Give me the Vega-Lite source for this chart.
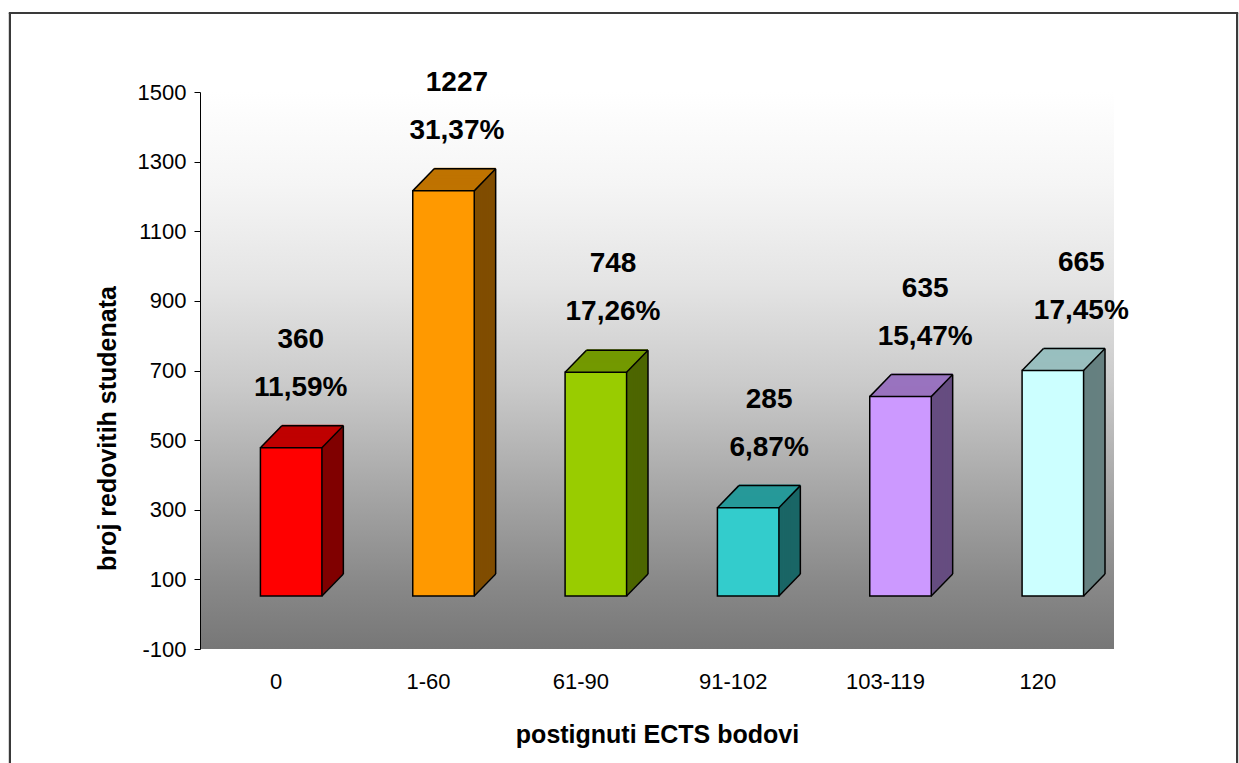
{
  "$schema": "https://vega.github.io/schema/vega-lite/v6.json",
  "autosize": {"type": "none"},
  "padding": {"left": 200, "top": 92, "right": 125, "bottom": 114},
  "width": 914,
  "height": 557,
  "background": "white",
  "config": {
    "font": "Liberation Sans, Arial, sans-serif",
    "view": {
      "stroke": null,
      "fill": {
        "gradient": "linear", "x1": 0, "y1": 0, "x2": 0, "y2": 1,
        "stops": [
          {"offset": 0, "color": "#ffffff"},
          {"offset": 0.05, "color": "#fcfcfc"},
          {"offset": 0.167, "color": "#f5f5f5"},
          {"offset": 0.346, "color": "#e4e4e4"},
          {"offset": 0.526, "color": "#cacaca"},
          {"offset": 0.706, "color": "#a8a8a8"},
          {"offset": 0.885, "color": "#888888"},
          {"offset": 1, "color": "#777777"}
        ]
      }
    }
  },
  "data": {
    "values": [
      {"bodovi": "0", "visina": 478, "broj": "360", "postotak": "11,59%"},
      {"bodovi": "1-60", "visina": 1216, "broj": "1227", "postotak": "31,37%"},
      {"bodovi": "61-90", "visina": 695, "broj": "748", "postotak": "17,26%"},
      {"bodovi": "91-102", "visina": 306, "broj": "285", "postotak": "6,87%"},
      {"bodovi": "103-119", "visina": 625, "broj": "635", "postotak": "15,47%"},
      {"bodovi": "120", "visina": 700, "broj": "665", "postotak": "17,45%"}
    ]
  },
  "encoding": {
    "y": {
      "field": "visina", "type": "quantitative",
      "scale": {"domain": [-100, 1500], "nice": false, "zero": false},
      "title": "broj redovitih studenata",
      "axis": {
        "values": [-100, 100, 300, 500, 700, 900, 1100, 1300, 1500],
        "labelExpr": "'' + datum.value",
        "grid": false,
        "domainColor": "#000000", "domainWidth": 1,
        "tickColor": "#000000", "tickSize": 6, "tickWidth": 1,
        "labelPadding": 8, "labelFontSize": 22, "labelColor": "#000000",
        "titleFontSize": 25, "titleFontWeight": "bold", "titleColor": "#000000",
        "titleAngle": -90, "titleAlign": "center", "titleBaseline": "bottom", "titleX": -80, "titleY": 336
      }
    }
  },
  "resolve": {"scale": {"x": "independent"}, "axis": {"x": "independent"}},
  "layer": [
    {
      "encoding": {
        "x": {
          "field": "bodovi", "type": "nominal", "sort": null,
          "scale": {"paddingInner": 0, "paddingOuter": 0},
          "title": "postignuti ECTS bodovi",
          "axis": {
            "labelAngle": 0, "domain": false, "ticks": false, "tickSize": 0,
            "labelPadding": 39, "labelBaseline": "alphabetic",
            "labelFontSize": 22, "labelColor": "#000000",
            "titleFontSize": 25, "titleFontWeight": "bold", "titleColor": "#000000",
            "titleBaseline": "alphabetic", "titleY": 93
          }
        }
      },
      "layer": [
        {
          "encoding": {
            "y2": {"datum": 52},
            "fill": {"field": "bodovi", "type": "nominal", "legend": null,
              "scale": {"domain": ["0", "1-60", "61-90", "91-102", "103-119", "120"],
                "range": ["#800000", "#804D00", "#4D6600", "#1A6666", "#664D80", "#668080"]}},
            "stroke": {"field": "bodovi", "type": "nominal", "legend": null,
              "scale": {"domain": ["0", "1-60", "61-90", "91-102", "103-119", "120"],
                "range": ["#BF0000", "#BF7300", "#739900", "#269999", "#9973BF", "#99BFBF"]}}
          },
          "layer": [
            {"mark": {"type": "bar", "width": 61.5, "xOffset": 36.42, "yOffset": -22.05, "y2Offset": -22.05, "strokeWidth": 2, "strokeDash": [61.5, 4000]}},
            {"mark": {"type": "bar", "width": 61.5, "xOffset": 35.4, "yOffset": -21, "y2Offset": -21, "strokeWidth": 2, "strokeDash": [61.5, 4000]}},
            {"mark": {"type": "bar", "width": 61.5, "xOffset": 34.38, "yOffset": -19.95, "y2Offset": -19.95, "strokeWidth": 2, "strokeDash": [61.5, 4000]}},
            {"mark": {"type": "bar", "width": 61.5, "xOffset": 33.36, "yOffset": -18.9, "y2Offset": -18.9, "strokeWidth": 2, "strokeDash": [61.5, 4000]}},
            {"mark": {"type": "bar", "width": 61.5, "xOffset": 32.34, "yOffset": -17.85, "y2Offset": -17.85, "strokeWidth": 2, "strokeDash": [61.5, 4000]}},
            {"mark": {"type": "bar", "width": 61.5, "xOffset": 31.32, "yOffset": -16.8, "y2Offset": -16.8, "strokeWidth": 2, "strokeDash": [61.5, 4000]}},
            {"mark": {"type": "bar", "width": 61.5, "xOffset": 30.3, "yOffset": -15.75, "y2Offset": -15.75, "strokeWidth": 2, "strokeDash": [61.5, 4000]}},
            {"mark": {"type": "bar", "width": 61.5, "xOffset": 29.28, "yOffset": -14.7, "y2Offset": -14.7, "strokeWidth": 2, "strokeDash": [61.5, 4000]}},
            {"mark": {"type": "bar", "width": 61.5, "xOffset": 28.26, "yOffset": -13.65, "y2Offset": -13.65, "strokeWidth": 2, "strokeDash": [61.5, 4000]}},
            {"mark": {"type": "bar", "width": 61.5, "xOffset": 27.24, "yOffset": -12.6, "y2Offset": -12.6, "strokeWidth": 2, "strokeDash": [61.5, 4000]}},
            {"mark": {"type": "bar", "width": 61.5, "xOffset": 26.22, "yOffset": -11.55, "y2Offset": -11.55, "strokeWidth": 2, "strokeDash": [61.5, 4000]}},
            {"mark": {"type": "bar", "width": 61.5, "xOffset": 25.2, "yOffset": -10.5, "y2Offset": -10.5, "strokeWidth": 2, "strokeDash": [61.5, 4000]}},
            {"mark": {"type": "bar", "width": 61.5, "xOffset": 24.18, "yOffset": -9.45, "y2Offset": -9.45, "strokeWidth": 2, "strokeDash": [61.5, 4000]}},
            {"mark": {"type": "bar", "width": 61.5, "xOffset": 23.16, "yOffset": -8.4, "y2Offset": -8.4, "strokeWidth": 2, "strokeDash": [61.5, 4000]}},
            {"mark": {"type": "bar", "width": 61.5, "xOffset": 22.14, "yOffset": -7.35, "y2Offset": -7.35, "strokeWidth": 2, "strokeDash": [61.5, 4000]}},
            {"mark": {"type": "bar", "width": 61.5, "xOffset": 21.12, "yOffset": -6.3, "y2Offset": -6.3, "strokeWidth": 2, "strokeDash": [61.5, 4000]}},
            {"mark": {"type": "bar", "width": 61.5, "xOffset": 20.1, "yOffset": -5.25, "y2Offset": -5.25, "strokeWidth": 2, "strokeDash": [61.5, 4000]}},
            {"mark": {"type": "bar", "width": 61.5, "xOffset": 19.08, "yOffset": -4.2, "y2Offset": -4.2, "strokeWidth": 2, "strokeDash": [61.5, 4000]}},
            {"mark": {"type": "bar", "width": 61.5, "xOffset": 18.06, "yOffset": -3.15, "y2Offset": -3.15, "strokeWidth": 2, "strokeDash": [61.5, 4000]}},
            {"mark": {"type": "bar", "width": 61.5, "xOffset": 17.04, "yOffset": -2.1, "y2Offset": -2.1, "strokeWidth": 2, "strokeDash": [61.5, 4000]}},
            {"mark": {"type": "bar", "width": 61.5, "xOffset": 16.02, "yOffset": -1.05, "y2Offset": -1.05, "strokeWidth": 2, "strokeDash": [61.5, 4000]}}
          ]
        },
        {
          "mark": {"type": "rule", "color": "#000000", "strokeWidth": 1.5, "xOffset": 5.67, "x2Offset": 67.17, "yOffset": -22.05},
          "encoding": {"x2": {"field": "bodovi"}}
        },
        {
          "mark": {"type": "rule", "color": "#000000", "strokeWidth": 1.5, "xOffset": -15.75, "x2Offset": 5.67, "y2Offset": -22.05},
          "encoding": {"x2": {"field": "bodovi"}, "y2": {"field": "visina"}}
        },
        {
          "mark": {"type": "rule", "color": "#000000", "strokeWidth": 1.5, "xOffset": 45.75, "x2Offset": 67.17, "y2Offset": -22.05},
          "encoding": {"x2": {"field": "bodovi"}, "y2": {"field": "visina"}}
        },
        {
          "mark": {"type": "rule", "color": "#000000", "strokeWidth": 1.5, "xOffset": 67.17, "yOffset": -22.05, "y2Offset": -22.05},
          "encoding": {"y2": {"datum": 52}}
        },
        {
          "mark": {"type": "rule", "color": "#000000", "strokeWidth": 1.5, "xOffset": 45.75, "x2Offset": 67.17, "y2Offset": -22.05},
          "encoding": {"x2": {"field": "bodovi"}, "y": {"datum": 52}, "y2": {"datum": 52}}
        },
        {
          "mark": {"type": "bar", "width": 61.5, "xOffset": 15, "stroke": "#000000", "strokeWidth": 1.5},
          "encoding": {
            "y2": {"datum": 52},
            "color": {"field": "bodovi", "type": "nominal", "legend": null,
              "scale": {"domain": ["0", "1-60", "61-90", "91-102", "103-119", "120"],
                "range": ["#FF0000", "#FF9900", "#99CC00", "#33CCCC", "#CC99FF", "#CCFFFF"]}}
          }
        },
        {
          "mark": {"type": "rule", "color": "#3a3a3a", "strokeWidth": 2, "xOffset": -266.2},
          "encoding": {"x": {"datum": "0"}, "y": {"datum": 1727}, "y2": {"datum": -540}}
        },
        {
          "mark": {"type": "rule", "color": "#3a3a3a", "strokeWidth": 2, "xOffset": 199.2},
          "encoding": {"x": {"datum": "120"}, "y": {"datum": 1727}, "y2": {"datum": -540}}
        },
        {
          "mark": {"type": "rule", "color": "#3a3a3a", "strokeWidth": 2, "xOffset": -267.2, "x2Offset": 200.2},
          "encoding": {"x": {"datum": "0"}, "x2": {"datum": "120"}, "y": {"datum": 1727}}
        }
      ]
    },
    {
      "encoding": {
        "x": {"field": "bodovi", "type": "nominal", "sort": null, "axis": null,
          "scale": {"range": [22.75, 959.35], "paddingInner": 0, "paddingOuter": 0}}
      },
      "layer": [
        {
          "mark": {"type": "text", "fontSize": 28, "fontWeight": "bold", "color": "#000000", "align": "center", "baseline": "alphabetic", "dy": -100},
          "encoding": {"text": {"field": "broj"}}
        },
        {
          "mark": {"type": "text", "fontSize": 28, "fontWeight": "bold", "color": "#000000", "align": "center", "baseline": "alphabetic", "dy": -52},
          "encoding": {"text": {"field": "postotak"}}
        }
      ]
    }
  ]
}
